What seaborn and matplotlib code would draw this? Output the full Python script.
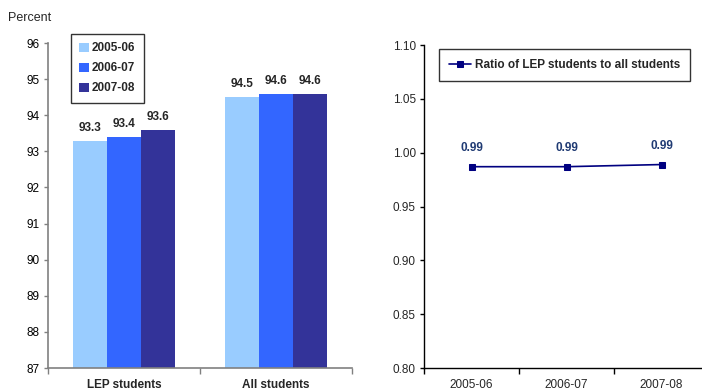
import matplotlib
matplotlib.use("Agg")
import matplotlib.pyplot as plt
import seaborn as sns
import pandas as pd
import numpy as np

# Graduation-style percentages by student group and school year
groups = ["LEP students", "All students"]
years = ["2005-06", "2006-07", "2007-08"]
lep_pct = [93.3, 93.4, 93.6]
all_pct = [94.5, 94.6, 94.6]

# Ratio of LEP students to all students
ratio = [0.987, 0.987, 0.989]

bar_colors = ["#99CCFF", "#3366FF", "#333399"]
line_color = "#000080"

sns.set_theme(style="white")
plt.rcParams["font.family"] = ["Liberation Sans", "DejaVu Sans"]

FS = 8.5

fig = plt.figure(figsize=(7.02, 3.91), dpi=100)

# ---- Left panel: grouped bars ----
ax1 = fig.add_axes([0.0684, 0.0588, 0.433, 0.831])
df = pd.DataFrame({
    "group": [g for g in groups for _ in years],
    "year": years * 2,
    "pct": lep_pct + all_pct,
})
sns.barplot(data=df, x="group", y="pct", hue="year", order=groups,
            hue_order=years, palette=bar_colors, width=0.67,
            saturation=1, ax=ax1, edgecolor="none", legend=True)
ax1.set_ylim(87, 96)
ax1.set_xlim(-0.5, 1.5)
ax1.set_yticks(np.arange(87, 97, 1))
ax1.tick_params(axis="y", direction="out", length=3, width=1, color="#808080",
                labelsize=FS, pad=3, left=True, labelcolor="#000000")
ax1.set_xticks([0, 1])
ax1.set_xticklabels(groups, fontsize=FS, fontweight="bold")
ax1.tick_params(axis="x", length=0, pad=8)
ax1.set_xticks([-0.5, 0.5, 1.5], minor=True)
ax1.tick_params(axis="x", which="minor", direction="out", length=4,
                width=1, color="#808080", bottom=True)
ax1.set_xlabel("")
ax1.set_ylabel("")
for s in ["top", "right"]:
    ax1.spines[s].set_visible(False)
for s in ["left", "bottom"]:
    ax1.spines[s].set_color("#808080")
    ax1.spines[s].set_linewidth(1.2)

for cont in ax1.containers:
    ax1.bar_label(cont, labels=[f"{v:.1f}" for v in cont.datavalues],
                  padding=5, fontsize=FS, fontweight="bold")

leg1 = ax1.legend(loc="upper left", bbox_to_anchor=(0.075, 1.028),
                  frameon=True, fancybox=False, fontsize=FS,
                  handlelength=0.8, handleheight=0.8, handletextpad=0.3,
                  labelspacing=0.68, borderpad=0.7, borderaxespad=0)
leg1.get_frame().set_edgecolor("#000000")
leg1.get_frame().set_linewidth(1)
for t in leg1.get_texts():
    t.set_fontweight("bold")

fig.text(0.012, 0.955, "Percent", fontsize=9, ha="left", va="center")

# ---- Right panel: ratio line ----
ax2 = fig.add_axes([0.604, 0.0588, 0.406, 0.826])
rdf = pd.DataFrame({"year": years, "ratio": ratio, "x": np.arange(len(years))})
sns.lineplot(data=rdf, x="x", y="ratio", ax=ax2, color=line_color,
             marker="s", markersize=4, markeredgecolor=line_color,
             linewidth=1.2, label="Ratio of LEP students to all students")
ax2.set_xlim(-0.5, 2.5)
ax2.set_ylim(0.80, 1.10)
ax2.set_yticks(np.arange(0.80, 1.101, 0.05))
ax2.set_yticklabels([f"{v:.2f}" for v in np.arange(0.80, 1.101, 0.05)])
ax2.tick_params(axis="y", direction="out", length=3, width=1, color="#000000",
                labelsize=FS, pad=3, left=True)
ax2.set_xticks(range(len(years)))
ax2.set_xticklabels(years, fontsize=FS)
ax2.tick_params(axis="x", length=0, pad=8)
ax2.set_xticks([-0.5, 0.5, 1.5, 2.5], minor=True)
ax2.tick_params(axis="x", which="minor", direction="out", length=4,
                width=1, color="#000000", bottom=True)
ax2.set_xlabel("")
ax2.set_ylabel("")
for s in ["top", "right"]:
    ax2.spines[s].set_visible(False)
for s in ["left", "bottom"]:
    ax2.spines[s].set_color("#000000")
    ax2.spines[s].set_linewidth(1)

for xi, v in zip(rdf["x"], ratio):
    ax2.annotate(f"{v:.2f}", (xi, v), xytext=(0, 9), textcoords="offset points",
                 ha="center", va="bottom", fontsize=FS, fontweight="bold",
                 color="#1F3A73")

leg2 = ax2.legend(loc="upper left", bbox_to_anchor=(0.052, 0.988),
                  frameon=True, fancybox=False, fontsize=FS,
                  handlelength=1.9, handletextpad=0.3, borderpad=0.85,
                  borderaxespad=0)
leg2.get_frame().set_edgecolor("#000000")
leg2.get_frame().set_linewidth(1)
for t in leg2.get_texts():
    t.set_fontweight("bold")

fig.savefig("out.png", dpi=100)
